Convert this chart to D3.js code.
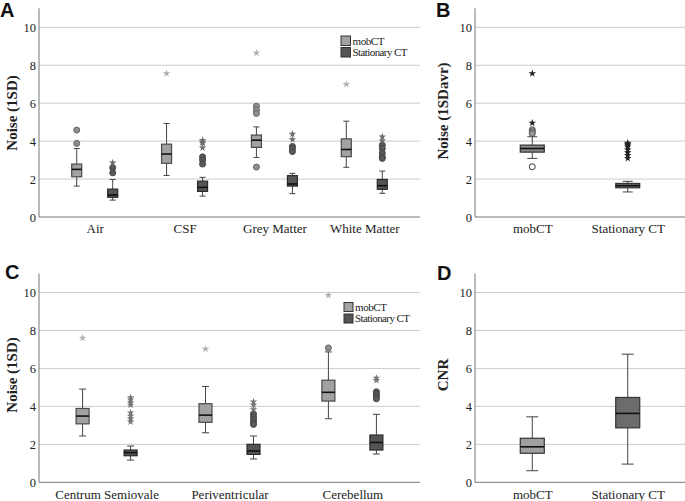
<!DOCTYPE html>
<html><head><meta charset="utf-8">
<script src="https://cdn.jsdelivr.net/npm/d3@7"></script>
<style>body{margin:0;background:#fff} svg{display:block} svg text{font-family:'Liberation Serif','Times New Roman',serif}</style>
</head><body><svg id="c" width="685" height="501"></svg>
<script>
// ---------- DATA ----------
const yTicks = [0, 2, 4, 6, 8, 10];
const seriesNames = ["mobCT", "Stationary CT"];

// Panel A  (box stats: [whiskerLow, Q1, median, Q3, whiskerHigh])
const catsA = ["Air", "CSF", "Grey Matter", "White Matter"];
const mobA = [[1.63, 2.12, 2.51, 2.79, 3.61], [2.19, 2.83, 3.32, 3.84, 4.93], [3.14, 3.67, 4.05, 4.32, 4.75], [2.62, 3.18, 3.56, 4.12, 5.05]];
const statA = [[0.89, 1.04, 1.16, 1.47, 1.98], [1.10, 1.35, 1.56, 1.89, 2.09], [1.23, 1.63, 1.74, 2.18, 2.30], [1.25, 1.46, 1.65, 1.98, 2.42]];
const mobA_circles = [[4.58, 3.88], [], [5.84, 5.63, 5.46, 2.63], []];
const mobA_stars = [[], [7.56], [8.65], [7.0]];
const statA_circles = [[2.6, 2.33], [3.17, 3.0, 2.79], [3.72, 3.6, 3.45], [3.79, 3.61, 3.37, 3.16, 3.09]];
const statA_stars = [[2.86], [4.05, 3.95, 3.9, 3.65], [4.37, 4.09], [4.23, 4.02]];

// Panel B
const catsB = ["mobCT", "Stationary CT"];
const boxesB = [[3.09, 3.42, 3.61, 3.79, 4.23], [1.32, 1.54, 1.65, 1.77, 1.88]];
const starsB = [[7.56, 4.96], [3.9, 3.85, 3.8, 3.7, 3.55, 3.4, 3.25, 3.1]];
const circlesB = [[4.6, 4.5, 4.4], []];
const openCirclesB = [[2.65], []];

// Panel C
const catsC = ["Centrum Semiovale", "Periventricular", "Cerebellum"];
const mobC = [[2.44, 3.08, 3.49, 3.89, 4.91], [2.61, 3.16, 3.54, 4.14, 5.05], [3.35, 4.28, 4.74, 5.38, 6.87]];
const statC = [[1.17, 1.40, 1.56, 1.70, 1.91], [1.23, 1.47, 1.65, 2.00, 2.44], [1.49, 1.70, 2.10, 2.49, 3.58]];
const mobC_circles = [[], [], [7.08]];
const mobC_stars = [[7.61], [7.02], [9.86]];
const statC_circles = [[], [3.6, 3.45, 3.3, 3.15, 3.05], [4.77, 4.65, 4.52, 4.4]];
const statC_stars = [[4.47, 4.35, 4.2, 4.07, 3.66, 3.5, 3.35, 3.19], [4.24, 4.07, 3.84], [5.5, 5.38]];

// Panel D
const catsD = ["mobCT", "Stationary CT"];
const boxesD = [[0.61, 1.53, 1.87, 2.32, 3.45], [0.96, 2.87, 3.63, 4.47, 6.75]];

// ---------- DRAWING ----------
const svg = d3.select("#c");
const serif = "'Liberation Serif','Times New Roman',serif";

function makePanel(o) {
  const g = svg.append("g");
  const y = d3.scaleLinear().domain([0, 10]).range([o.y0, o.y10]);
  const x = d3.scalePoint().domain(o.cats).range([o.x0, o.x1]).padding(o.pad);
  g.append("g").selectAll("line").data(yTicks.filter(t => t > 0)).join("line")
    .attr("x1", o.x0).attr("x2", o.x1).attr("y1", d => y(d)).attr("y2", d => y(d))
    .attr("stroke", "#cccccc").attr("stroke-width", 1);
  const ya = g.append("g").attr("transform", `translate(${o.x0},0)`)
    .call(d3.axisLeft(y).tickValues(yTicks).tickSize(0).tickPadding(3).tickFormat(d3.format("d")));
  ya.select(".domain").remove();
  ya.attr("font-family", serif);
  ya.selectAll("text").style("font-family", serif).attr("font-size", 12.5).attr("fill", "#222");
  g.append("line").attr("x1", o.x0).attr("x2", o.x0).attr("y1", y(0)).attr("y2", y(11))
    .attr("stroke", "#777").attr("stroke-width", 1);
  g.append("line").attr("x1", o.x0).attr("x2", o.x1).attr("y1", y(0)).attr("y2", y(0))
    .attr("stroke", "#777").attr("stroke-width", 1);
  const xa = g.append("g").attr("transform", `translate(0,${y(0)})`)
    .call(d3.axisBottom(x).tickSize(0).tickPadding(7));
  xa.select(".domain").remove();
  xa.attr("font-family", serif);
  xa.selectAll("text").style("font-family", serif).attr("font-size", 13).attr("fill", "#222");
  g.append("text").attr("transform", `translate(${o.ylx},${o.yly}) rotate(-90)`)
    .attr("text-anchor", "middle").style("font-family", serif).attr("font-weight", "bold")
    .attr("font-size", 15).attr("fill", "#222").text(o.ylabel);
  g.append("text").attr("x", o.lx).attr("y", o.ly).style("font-family", "'Liberation Sans',Arial,sans-serif")
    .attr("font-weight", "bold").attr("font-size", 20).attr("fill", "#111").text(o.letter);
  return {g, x, y};
}

function drawBox(g, y, cx, s, w, capW, fill, stroke) {
  const b = g.append("g");
  b.append("line").attr("x1", cx).attr("x2", cx).attr("y1", y(s[0])).attr("y2", y(s[1])).attr("stroke", "#444");
  b.append("line").attr("x1", cx).attr("x2", cx).attr("y1", y(s[3])).attr("y2", y(s[4])).attr("stroke", "#444");
  b.append("line").attr("x1", cx - capW / 2).attr("x2", cx + capW / 2).attr("y1", y(s[0])).attr("y2", y(s[0])).attr("stroke", "#444");
  b.append("line").attr("x1", cx - capW / 2).attr("x2", cx + capW / 2).attr("y1", y(s[4])).attr("y2", y(s[4])).attr("stroke", "#444");
  b.append("rect").attr("x", cx - w / 2).attr("width", w).attr("y", y(s[3])).attr("height", y(s[1]) - y(s[3]))
    .attr("fill", fill).attr("stroke", stroke).attr("stroke-width", 1.2);
  b.append("line").attr("x1", cx - w / 2).attr("x2", cx + w / 2).attr("y1", y(s[2])).attr("y2", y(s[2]))
    .attr("stroke", "#111").attr("stroke-width", 1.6);
}

const star = d3.symbol().type(d3.symbolStar).size(18);
function drawCircles(g, y, cx, vals, fill, stroke) {
  g.append("g").selectAll("circle").data(vals).join("circle")
    .attr("cx", cx).attr("cy", d => y(d)).attr("r", 3).attr("fill", fill).attr("stroke", stroke).attr("stroke-width", 1);
}
function drawStars(g, y, cx, vals, fill) {
  g.append("g").selectAll("path").data(vals).join("path")
    .attr("d", star).attr("transform", d => `translate(${cx},${y(d)})`).attr("fill", fill);
}
function drawLegend(g, lx, ly, sz, gap, fills) {
  seriesNames.forEach((n, i) => {
    g.append("rect").attr("x", lx).attr("y", ly + i * gap).attr("width", sz).attr("height", sz)
      .attr("fill", fills[i]).attr("stroke", "#333").attr("stroke-width", 1);
    g.append("text").attr("x", lx + sz + 2).attr("y", ly + i * gap + sz - 1)
      .style("font-family", serif).attr("font-size", 11).attr("fill", "#222")
      .attr("textLength", i === 0 ? 32 : 55).text(n);
  });
}

const mobFill = "#a2a2a2", mobStroke = "#4a4a4a", statFill = "#555555", statStroke = "#2a2a2a";

// Panel A
{
  const {g, x, y} = makePanel({x0: 39, x1: 420, y0: 217, y10: 27.3, cats: catsA, pad: 0.62,
    ylabel: "Noise (1SD)", ylx: 17, yly: 113, letter: "A", lx: 0, ly: 17});
  catsA.forEach((c, i) => {
    const cm = x(c) - 18, cs = x(c) + 18;
    drawBox(g, y, cm, mobA[i], 10, 6, mobFill, mobStroke);
    drawBox(g, y, cs, statA[i], 10, 6, statFill, statStroke);
    drawCircles(g, y, cm, mobA_circles[i], "#8e8e8e", "#666");
    drawStars(g, y, cm, mobA_stars[i], "#b0b0b0");
    drawCircles(g, y, cs, statA_circles[i], "#5a5a5a", "#444");
    drawStars(g, y, cs, statA_stars[i], "#6a6a6a");
  });
  drawLegend(g, 341, 36, 9.5, 11.5, [mobFill, statFill]);
}
// Panel B
{
  const {g, x, y} = makePanel({x0: 475, x1: 685, y0: 217, y10: 27.3, cats: catsB, pad: 0.6,
    ylabel: "Noise (1SDavr)", ylx: 448, yly: 111, letter: "B", lx: 436, ly: 17});
  const fills = ["#8a8a8a", "#666666"];
  catsB.forEach((c, i) => {
    drawBox(g, y, x(c), boxesB[i], 24, 10, fills[i], "#333");
    drawStars(g, y, x(c), starsB[i], "#222");
    drawCircles(g, y, x(c), circlesB[i], "#999", "#555");
    drawCircles(g, y, x(c), openCirclesB[i], "none", "#333");
  });
}
// Panel C
{
  const {g, x, y} = makePanel({x0: 39, x1: 420, y0: 482.3, y10: 292.5, cats: catsC, pad: 0.55,
    ylabel: "Noise (1SD)", ylx: 17, yly: 375, letter: "C", lx: 5, ly: 279});
  catsC.forEach((c, i) => {
    const cm = x(c) - 24, cs = x(c) + 24;
    drawBox(g, y, cm, mobC[i], 13, 7, mobFill, mobStroke);
    drawBox(g, y, cs, statC[i], 13, 7, statFill, statStroke);
    drawCircles(g, y, cm, mobC_circles[i], "#8e8e8e", "#666");
    drawStars(g, y, cm, mobC_stars[i], "#b0b0b0");
    drawCircles(g, y, cs, statC_circles[i], "#5a5a5a", "#444");
    drawStars(g, y, cs, statC_stars[i], "#777");
  });
  drawLegend(g, 344, 302.5, 9, 11.5, [mobFill, statFill]);
}
// Panel D
{
  const {g, x, y} = makePanel({x0: 475, x1: 685, y0: 482.3, y10: 292.5, cats: catsD, pad: 0.6,
    ylabel: "CNR", ylx: 448, yly: 375, letter: "D", lx: 437, ly: 280});
  const fills = ["#a0a0a0", "#6c6c6c"];
  catsD.forEach((c, i) => {
    drawBox(g, y, x(c), boxesD[i], 24, 12, fills[i], "#333");
  });
}
</script></body></html>
